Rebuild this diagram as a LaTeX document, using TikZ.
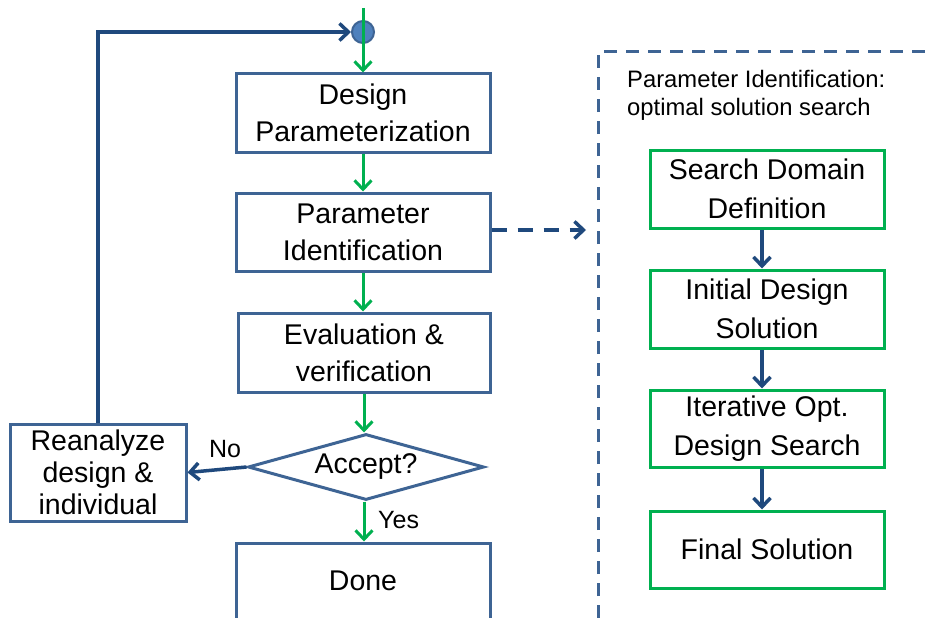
\documentclass[tikz,border=0pt]{standalone}
\usepackage{fontspec}
\setmainfont{Liberation Sans}
\usetikzlibrary{arrows.meta,shapes.geometric}
\definecolor{boxblue}{HTML}{3E6494}
\definecolor{arrowblue}{HTML}{1F497D}
\definecolor{flowgreen}{HTML}{00B050}
\definecolor{dotfill}{HTML}{4F81BD}
\tikzset{
  x=1pt, y=-1pt,
  bluebox/.style={draw=boxblue, line width=3pt, fill=white, align=center,
    minimum width=254pt, minimum height=78pt, inner sep=0pt,
    font=\fontsize{28.5}{37}\selectfont},
  greenbox/.style={draw=flowgreen, line width=3pt, fill=white, align=center,
    minimum width=234pt, minimum height=78pt, inner sep=0pt,
    font=\fontsize{28.5}{39}\selectfont},
  greenarrow/.style={draw=flowgreen, line width=3pt,
    -{Straight Barb[length=9pt,width=17pt]}},
  bluearrow/.style={draw=arrowblue, line width=3.5pt,
    -{Straight Barb[length=9pt,width=17pt]}},
  lbl/.style={font=\fontsize{23}{28}\selectfont, inner sep=0pt},
}
\begin{document}
\begin{tikzpicture}
\clip (0,0) rectangle (927,618);
\fill[white] (0,0) rectangle (927,618);

% main flow
\node[bluebox] (dp) at (363,113) {Design\\Parameterization};
\node[bluebox] (pi) at (363,232) {Parameter\\Identification};
\node[bluebox, minimum width=252pt, minimum height=79pt] (ev) at (364,352.5) {Evaluation \&\\verification};
\node[diamond, draw=boxblue, line width=3pt, fill=white, inner sep=0pt,
      minimum width=236pt, minimum height=66pt,
      font=\fontsize{28.5}{37}\selectfont] (acc) at (366,467) {\makebox[0pt]{Accept?}};
\node[bluebox, minimum height=76pt] (done) at (363,581) {Done};
\node[bluebox, minimum width=176pt, minimum height=97pt,
      font=\fontsize{28.5}{32}\selectfont] (re) at (98,472.5) {Reanalyze\\design \&\\individual};

% entry point
\node[circle, draw=boxblue, line width=2pt, fill=dotfill, minimum size=22pt, inner sep=0pt] (dot) at (363,32) {};
\coordinate (top) at (363,8);

% loop back from the reanalysis step
\draw[bluearrow, line join=miter] (re.north) |- (dot.west);

% green flow arrows
\draw[greenarrow] (top) -- (dp.north);
\draw[greenarrow] (dp.south) -- (pi.north);
\draw[greenarrow] (pi.south) -- (pi.south |- ev.north);
\draw[greenarrow] (ev.south) -- (ev.south |- acc.north);
\draw[greenarrow] (ev.south |- acc.south) -- (ev.south |- done.north);
\draw[bluearrow] (acc.west) -- (re.east);

\node[lbl, font=\fontsize{25}{30}\selectfont, anchor=south] (no) at (225,458) {No};
\node[lbl, font=\fontsize{25}{30}\selectfont, anchor=west] (yes) at (378,520) {Yes};

% detail panel
\draw[draw=boxblue, line width=3pt, dash pattern=on 13pt off 9pt]
  (598,640) -- (598,52) -- (940,52);
\coordinate (panel) at (586,230);
\draw[bluearrow, dash pattern=on 15pt off 11pt] (pi.east |- panel) -- (panel);
\node[lbl, anchor=north west, align=left, font=\fontsize{23.8}{28.5}\selectfont] (ttl) at (627,70)
  {Parameter Identification:\\optimal solution search};

\node[greenbox] (sdd) at (767,189) {Search Domain\\Definition};
\node[greenbox] (ids) at (767,309) {Initial Design\\Solution};
\node[greenbox, minimum height=77pt] (ios) at (767,428.5) {Iterative Opt.\\Design Search};
\node[greenbox, minimum height=77pt] (fs) at (767,549.5) {Final Solution};

\draw[bluearrow] ([xshift=-5pt]sdd.south) -- ([xshift=-5pt]ids.north);
\draw[bluearrow] ([xshift=-5pt]ids.south) -- ([xshift=-5pt]ios.north);
\draw[bluearrow] ([xshift=-5pt]ios.south) -- ([xshift=-5pt]fs.north);
\end{tikzpicture}
\end{document}
